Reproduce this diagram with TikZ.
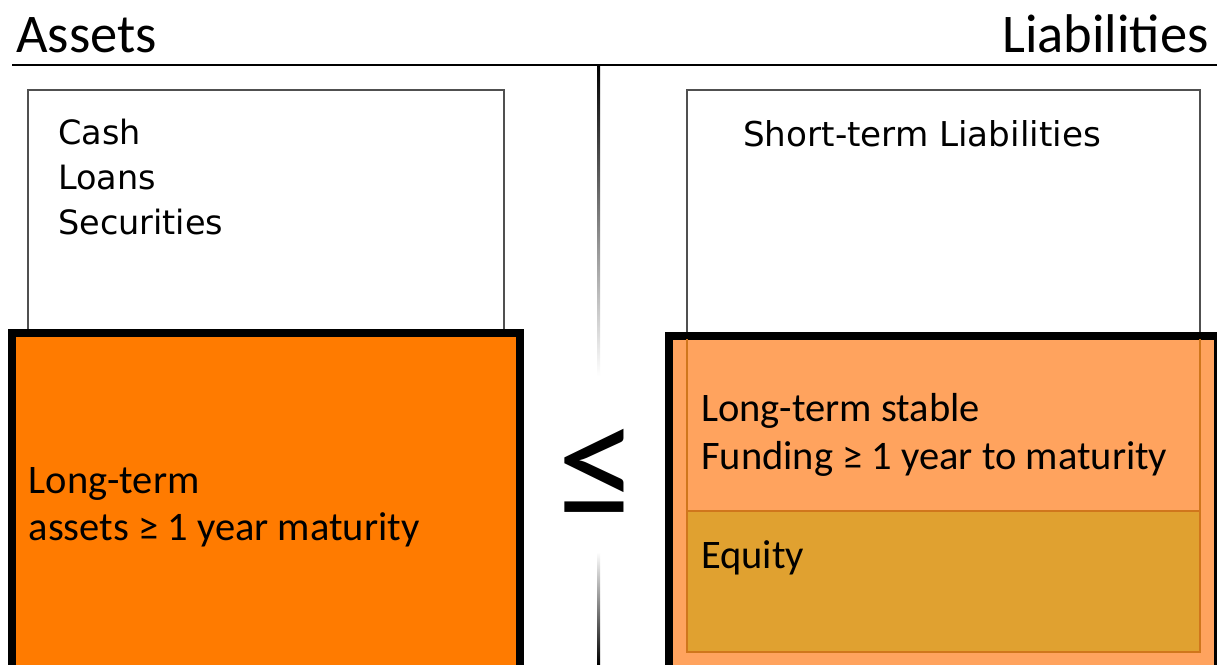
\documentclass[tikz,border=0pt]{standalone}
\usepackage{fontspec}
\setmainfont{Carlito}
\newfontfamily\verd{DejaVu Sans}
\definecolor{assetorange}{RGB}{255,123,0}
\definecolor{fundorange}{RGB}{255,163,94}
\definecolor{equitygold}{RGB}{224,161,48}
\definecolor{edgeorange}{RGB}{208,118,28}
\definecolor{boxgray}{RGB}{80,80,80}
\tikzset{
  headtext/.style={inner sep=0pt, font=\fontsize{54.5}{60}\selectfont},
  bodytext/.style={inner sep=0pt, anchor=base west, font=\fontsize{40.5}{48}\selectfont},
  listtext/.style={inner sep=0pt, anchor=base west, font=\verd\fontsize{33.5}{40}\selectfont},
  whitebox/.style={draw=boxgray, line width=1.4pt, fill=white},
  heavybox/.style={draw=black, line width=8pt},
  thinedge/.style={draw=edgeorange, line width=1.2pt},
}
\begin{document}
\begin{tikzpicture}[x=1pt,y=1pt]
\useasboundingbox (0,0) rectangle (1217,-664);
\fill[white] (0,0) rectangle (1217,-664);
\clip (0,0) rectangle (1217,-664);
% header
\node[headtext, anchor=base west] (assets) at (16,-52) {Assets};
\node[headtext, anchor=base east] (liab) at (1209,-52) {Liabilities};
\coordinate (hl) at (12,-65);
\coordinate (hr) at (1217,-65);
\draw[line width=2.5pt] (hl) -- (hr);
% divider
\shade[top color=black, bottom color=white] (597,-65) rectangle (600,-376);
\shade[top color=white, bottom color=black] (597,-552) rectangle (600,-664);
% left side
\draw[whitebox] (28,-90) rectangle (504,-652);
\node[listtext] (cash) at (58,-144) {Cash};
\node[listtext] (loans) at (58,-189) {Loans};
\node[listtext] (secs) at (58,-234) {Securities};
\draw[heavybox, fill=assetorange] (11.5,-333) rectangle (520,-700);
\node[bodytext] (lt1) at (28.5,-493) {Long-term};
\node[bodytext] (lt2) at (28.5,-540) {assets ≥ 1 year maturity};
% right side
\draw[whitebox] (687,-90) rectangle (1200,-652);
\node[listtext, font=\verd\fontsize{34.2}{40}\selectfont] (stl) at (743,-146) {Short-term Liabilities};
\draw[heavybox, fill=fundorange] (669,-335.5) rectangle (1218,-700);
\draw[thinedge] (687,-339) -- (687,-511) (1200,-339) -- (1200,-511);
\draw[thinedge, fill=equitygold] (687,-511) rectangle (1200,-652);
\node[bodytext] (ls1) at (701,-421.5) {Long-term stable};
\node[bodytext] (ls2) at (701,-469) {Funding ≥ 1 year to maturity};
\node[bodytext] (eq) at (701,-568) {Equity};
% relation sign
\node[inner sep=0pt, font=\fontsize{162}{162}\selectfont] (leq) at (597.5,-473.5) {≤};
\end{tikzpicture}
\end{document}
